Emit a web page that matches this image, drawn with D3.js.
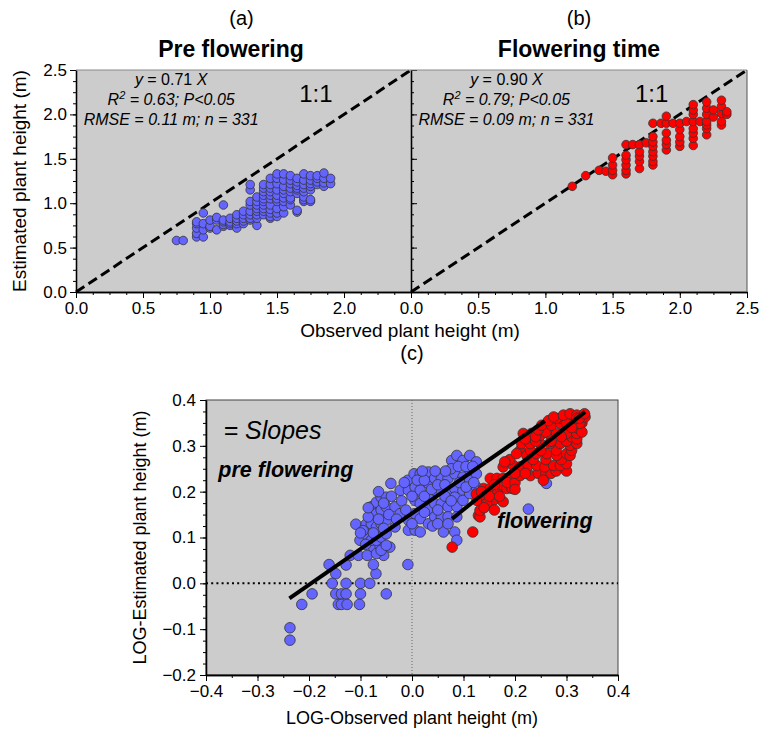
<!DOCTYPE html>
<html>
<head>
<meta charset="utf-8">
<script src="https://cdn.jsdelivr.net/npm/d3@7"></script>
<style>
  body { margin: 0; background: #fff; }
  svg { display: block; }
  text { font-family: 'Liberation Sans', Arial, sans-serif; fill: #000; }
</style>
</head>
<body>
<svg id="chart" width="759" height="731"></svg>
<script>
// ---- Panel (a): pre flowering, observed height columns and estimated heights (m)
const preObs = [0.75, 0.80, 0.90, 0.95, 1.00, 1.05, 1.10, 1.15, 1.20, 1.25, 1.30, 1.35,
                1.40, 1.45, 1.50, 1.55, 1.60, 1.65, 1.70, 1.75, 1.80, 1.85, 1.90];
const preEst = [
  [0.58],
  [0.58],
  [0.62, 0.66, 0.72, 0.77, 0.79],
  [0.62, 0.70, 0.77, 0.89],
  [0.72, 0.74, 0.81],
  [0.70, 0.81, 0.84],
  [0.74, 0.76, 0.79, 0.81, 0.98],
  [0.75, 0.77, 0.79, 0.83],
  [0.72, 0.77, 0.80, 0.83, 0.87],
  [0.77, 0.80, 0.83, 0.87, 0.91],
  [0.81, 0.83, 0.87, 0.91, 0.98, 1.02, 1.15, 1.21],
  [0.75, 0.83, 0.87, 0.91, 0.94, 0.98, 1.02, 1.07],
  [0.87, 0.91, 0.94, 0.98, 1.02, 1.05, 1.09, 1.13, 1.17, 1.21],
  [0.83, 0.85, 0.89, 0.93, 0.98, 1.05, 1.09, 1.13, 1.17, 1.21, 1.28],
  [0.85, 0.89, 0.94, 1.02, 1.05, 1.09, 1.15, 1.22, 1.28, 1.33],
  [0.89, 0.96, 1.02, 1.06, 1.11, 1.15, 1.19, 1.26, 1.33],
  [0.98, 1.04, 1.06, 1.13, 1.17, 1.22, 1.26, 1.31],
  [0.90, 0.92, 1.11, 1.15, 1.17, 1.20, 1.24, 1.28],
  [1.02, 1.04, 1.07, 1.13, 1.17, 1.21, 1.26, 1.33],
  [1.02, 1.04, 1.15, 1.19, 1.22, 1.26, 1.31],
  [1.21, 1.24, 1.28, 1.31],
  [1.19, 1.23, 1.28, 1.34],
  [1.22, 1.28]
];

// ---- Panel (b): flowering time
const flowObs = [1.20, 1.30, 1.40, 1.45, 1.50, 1.60, 1.65, 1.70, 1.75, 1.80, 1.86, 1.90,
                 1.95, 2.00, 2.05, 2.10, 2.15, 2.20, 2.25, 2.31, 2.35];
const flowEst = [
  [1.19],
  [1.31],
  [1.37],
  [1.36],
  [1.32, 1.37, 1.43, 1.51],
  [1.33, 1.37, 1.43, 1.49, 1.54, 1.66],
  [1.66],
  [1.39, 1.47, 1.53, 1.58, 1.66],
  [1.68],
  [1.43, 1.47, 1.53, 1.58, 1.64, 1.69, 1.75, 1.90],
  [1.90],
  [1.60, 1.66, 1.71, 1.79, 1.90, 1.98],
  [1.90],
  [1.64, 1.69, 1.75, 1.83, 1.90],
  [1.92],
  [1.65, 1.73, 1.79, 1.84, 1.92, 2.00, 2.05, 2.11],
  [1.92],
  [1.77, 1.84, 1.88, 1.92, 2.00, 2.07, 2.14],
  [1.97, 2.05],
  [1.88, 1.92, 2.01, 2.09, 2.16],
  [2.00, 2.03]
];

// Regression summaries printed in panels (a) and (b)
const panelTags   = ["(a)", "(b)"];
const panelTitles = ["Pre flowering", "Flowering time"];
const slopes      = ["0.71", "0.90"];
const r2Values    = ["0.63", "0.79"];
const rmseValues  = ["0.11", "0.09"];
const sampleSize  = 331;

const topTicksA = [0, 0.5, 1.0, 1.5, 2.0];
const topTicksB = [0, 0.5, 1.0, 1.5, 2.0, 2.5];
const topTicksY = [0, 0.5, 1.0, 1.5, 2.0, 2.5];

// ---- Panel (c): log10 observed vs log10 estimated heights
const logPre = [
  [-0.237, -0.097], [-0.237, -0.124], [-0.214, -0.046], [-0.194, -0.023],
  [-0.161, 0.041], [-0.148, 0.021], [-0.155, 0.000], [-0.128, 0.000], [-0.100, 0.000], [-0.082, 0.000],
  [-0.148, -0.023], [-0.137, -0.023], [-0.128, -0.023], [-0.100, -0.023],
  [-0.143, -0.046], [-0.137, -0.046], [-0.126, -0.046], [-0.102, -0.046],
  [-0.128, 0.040], [-0.120, 0.061], [-0.104, 0.061], [-0.070, 0.021], [-0.075, 0.041],
  [-0.050, -0.023], [-0.008, 0.041],
  [-0.087, 0.061], [-0.075, 0.079], [-0.062, 0.082], [-0.055, 0.061], [-0.043, 0.079],
  [-0.109, 0.129], [-0.101, 0.094], [-0.089, 0.129], [-0.089, 0.107],
  [-0.079, 0.167], [-0.079, 0.152], [-0.079, 0.130], [-0.079, 0.094],
  [-0.069, 0.177], [-0.069, 0.152], [-0.069, 0.123], [-0.069, 0.094], [-0.069, 0.065],
  [-0.060, 0.188], [-0.060, 0.160], [-0.060, 0.130], [-0.060, 0.101], [-0.060, 0.072],
  [-0.050, 0.188], [-0.050, 0.167], [-0.050, 0.138], [-0.050, 0.108], [-0.050, 0.083],
  [-0.041, 0.218], [-0.033, 0.167], [-0.033, 0.123], [-0.023, 0.203], [-0.023, 0.152],
  [-0.008, 0.225], [-0.007, 0.203], [-0.007, 0.138], [-0.007, 0.116],
  [0.004, 0.239], [0.006, 0.210], [0.006, 0.181], [0.006, 0.152], [0.006, 0.116],
  [0.016, 0.239], [0.016, 0.203], [0.016, 0.174], [0.016, 0.141], [0.016, 0.112],
  [0.032, 0.243], [0.032, 0.218], [0.032, 0.188], [0.032, 0.160], [0.032, 0.130],
  [0.044, 0.229], [0.044, 0.203], [0.044, 0.174], [0.044, 0.145],
  [0.057, 0.229], [0.057, 0.203], [0.057, 0.174], [0.057, 0.145],
  [0.070, 0.229], [0.070, 0.199], [0.070, 0.167], [0.070, 0.145],
  [0.083, 0.239], [0.083, 0.207], [0.083, 0.188], [0.087, 0.167], [0.087, 0.145],
  [0.077, 0.268], [0.087, 0.279], [0.099, 0.268], [0.112, 0.279], [0.125, 0.265],
  [0.099, 0.232], [0.099, 0.203], [0.099, 0.181],
  [0.112, 0.247], [0.112, 0.225], [0.112, 0.196],
  [0.125, 0.239], [0.125, 0.210],
  [0.061, 0.112], [0.083, 0.112], [0.087, 0.094],
  [-0.095, 0.115], [-0.085, 0.145], [-0.075, 0.110], [-0.065, 0.140], [-0.055, 0.120],
  [-0.045, 0.150], [-0.040, 0.190], [-0.030, 0.140], [-0.020, 0.180], [-0.015, 0.220],
  [-0.012, 0.160], [0.000, 0.190], [0.000, 0.130], [0.010, 0.225], [0.024, 0.225],
  [0.024, 0.155], [0.024, 0.190], [0.038, 0.205], [0.050, 0.215], [0.050, 0.160],
  [0.064, 0.190], [0.064, 0.215], [0.076, 0.180], [0.076, 0.250], [0.090, 0.255],
  [0.105, 0.255], [0.092, 0.220], [0.118, 0.255], [0.105, 0.210], [0.120, 0.220],
  [-0.090, 0.085], [-0.100, 0.110], [-0.085, 0.165], [-0.065, 0.200], [-0.055, 0.175],
  [0.040, 0.125], [0.050, 0.130], [0.070, 0.130], [0.065, 0.245], [0.045, 0.245], [0.020, 0.245],
  [0.261, 0.218], [0.226, 0.162]
];
const logFlow = [
  [0.078, 0.079], [0.118, 0.112], [0.129, 0.148],
  [0.132, 0.145], [0.132, 0.159], [0.126, 0.181], [0.145, 0.181], [0.158, 0.181], [0.177, 0.178],
  [0.139, 0.207], [0.152, 0.207], [0.168, 0.207], [0.184, 0.207], [0.194, 0.207],
  [0.145, 0.174], [0.165, 0.195], [0.150, 0.190],
  [0.140, 0.165], [0.160, 0.160], [0.170, 0.190], [0.125, 0.195], [0.135, 0.200],
  [0.152, 0.229], [0.165, 0.229], [0.177, 0.229], [0.190, 0.229],
  [0.185, 0.220], [0.200, 0.220], [0.160, 0.215], [0.200, 0.205],
  [0.210, 0.235], [0.230, 0.235], [0.245, 0.240], [0.260, 0.240], [0.270, 0.240],
  [0.280, 0.245], [0.255, 0.225], [0.300, 0.245],
  [0.177, 0.254], [0.197, 0.257], [0.210, 0.254], [0.226, 0.257], [0.242, 0.257],
  [0.258, 0.254], [0.275, 0.257], [0.288, 0.257], [0.300, 0.261],
  [0.200, 0.240], [0.220, 0.240], [0.235, 0.270], [0.260, 0.270], [0.290, 0.270],
  [0.190, 0.270], [0.180, 0.265], [0.210, 0.290],
  [0.203, 0.283], [0.223, 0.279], [0.242, 0.283], [0.262, 0.283], [0.281, 0.279], [0.300, 0.283], [0.307, 0.279],
  [0.230, 0.290], [0.250, 0.290], [0.280, 0.290], [0.310, 0.290],
  [0.213, 0.305], [0.229, 0.305], [0.249, 0.305], [0.268, 0.305], [0.288, 0.305], [0.307, 0.301], [0.320, 0.305],
  [0.240, 0.310], [0.270, 0.310], [0.300, 0.310], [0.310, 0.320], [0.320, 0.315],
  [0.216, 0.327], [0.232, 0.327], [0.249, 0.323], [0.265, 0.327], [0.281, 0.327], [0.300, 0.327], [0.320, 0.327],
  [0.260, 0.330], [0.290, 0.320], [0.320, 0.340], [0.330, 0.350], [0.330, 0.330],
  [0.240, 0.320], [0.220, 0.315], [0.245, 0.335],
  [0.252, 0.345], [0.271, 0.345], [0.288, 0.349], [0.307, 0.349], [0.326, 0.349],
  [0.290, 0.360], [0.300, 0.350], [0.310, 0.340], [0.280, 0.360], [0.265, 0.355],
  [0.275, 0.363], [0.294, 0.367], [0.307, 0.370], [0.320, 0.367], [0.336, 0.363], [0.320, 0.360],
  [0.325, 0.360], [0.335, 0.370]
];
// Fitted slope segments: [start, end] in log units
const fitPre    = [[-0.238, -0.033], [0.258, 0.354]];
const fitFlower = [[0.078, 0.141], [0.336, 0.374]];

const logTicksX = [-0.4, -0.3, -0.2, -0.1, 0.0, 0.1, 0.2, 0.3, 0.4];
const logTicksY = [-0.2, -0.1, 0.0, 0.1, 0.2, 0.3, 0.4];

// ---------------------------------------------------------------
const svg = d3.select("#chart");
const BG = "#cccccc";
const BLUE = "#6464ff";
const RED = "#ff0000";
const fmt1 = d3.format(".1f");
const fmtSigned = v => (v < 0 ? "\u2212" : "") + d3.format(".1f")(Math.abs(v));

// scales for the two upper panels
const yTop = d3.scaleLinear().domain([0, 2.5]).range([292, 70]);
const xA = d3.scaleLinear().domain([0, 2.5]).range([76, 411]);
const xB = d3.scaleLinear().domain([0, 2.5]).range([411, 747]);

// scales for the log panel
const xC = d3.scaleLinear().domain([-0.4, 0.4]).range([206, 618]);
const yC = d3.scaleLinear().domain([-0.2, 0.4]).range([675, 400]);

function minorValues(lo, hi, step) {
  const out = [];
  const n = Math.round((hi - lo) / step);
  for (let i = 0; i <= n; i++) out.push(+(lo + i * step).toFixed(4));
  return out;
}

function styleAxis(g, fontSize) {
  g.select(".domain").attr("stroke", "#000").attr("stroke-width", 1.3);
  g.selectAll(".tick line").attr("stroke", "#000").attr("stroke-width", 1);
  g.selectAll(".tick text")
    .attr("font-family", "'Liberation Sans', Arial, sans-serif")
    .attr("font-size", fontSize).attr("fill", "#000");
}

// ---------- upper panels
const topPanels = [
  { x: xA, obs: preObs, est: preEst, color: BLUE, ticks: topTicksA, titleX: 231 },
  { x: xB, obs: flowObs, est: flowEst, color: RED, ticks: topTicksB, titleX: 579 }
];

topPanels.forEach((p, i) => {
  const g = svg.append("g");
  const [x0, x1] = p.x.range();
  g.append("rect").attr("x", x0).attr("y", yTop(2.5))
    .attr("width", x1 - x0).attr("height", yTop(0) - yTop(2.5)).attr("fill", BG);

  // 1:1 reference line
  g.append("line")
    .attr("x1", p.x(0)).attr("y1", yTop(0)).attr("x2", p.x(2.5)).attr("y2", yTop(2.5))
    .attr("stroke", "#000").attr("stroke-width", 3).attr("stroke-dasharray", "10,5");

  // points
  const pts = [];
  p.obs.forEach((xv, k) => p.est[k].forEach(yv => pts.push([xv, yv])));
  g.selectAll("circle").data(pts).join("circle")
    .attr("cx", d => p.x(d[0])).attr("cy", d => yTop(d[1])).attr("r", 4.3)
    .attr("fill", p.color).attr("stroke", "#333").attr("stroke-width", 0.8);

  // regression text
  const cx = p.x(0.71);
  const t1 = g.append("text").attr("x", cx).attr("y", 85).attr("text-anchor", "middle").attr("font-size", 16);
  t1.append("tspan").attr("font-style", "italic").text("y");
  t1.append("tspan").text(" = " + slopes[i] + " ");
  t1.append("tspan").attr("font-style", "italic").text("X");
  const t2 = g.append("text").attr("x", cx).attr("y", 105).attr("text-anchor", "middle")
    .attr("font-size", 16).attr("font-style", "italic");
  t2.append("tspan").text("R");
  t2.append("tspan").attr("font-size", 11).attr("dy", -6).text("2");
  t2.append("tspan").attr("dy", 6).text(" = " + r2Values[i] + "; P<0.05");
  g.append("text").attr("x", cx).attr("y", 125).attr("text-anchor", "middle")
    .attr("font-size", 16).attr("font-style", "italic")
    .text("RMSE = " + rmseValues[i] + " m; n = " + sampleSize);

  g.append("text").attr("x", p.x(1.79)).attr("y", 102).attr("text-anchor", "middle")
    .attr("font-size", 24).text("1:1");

  // titles
  g.append("text").attr("x", (x0 + x1) / 2 - (i === 0 ? 2 : 0)).attr("y", 25).attr("text-anchor", "middle")
    .attr("font-size", 20).text(panelTags[i]);
  g.append("text").attr("x", p.titleX).attr("y", 57).attr("text-anchor", "middle")
    .attr("font-size", 23).attr("font-weight", "bold").text(panelTitles[i]);

  // x axis
  const ax = g.append("g").attr("transform", `translate(0,${yTop(0)})`);
  ax.call(d3.axisBottom(p.x).tickValues(minorValues(0, 2.5, 0.125)).tickSize(3).tickFormat("").tickSizeOuter(0));
  styleAxis(ax, 16);
  const axM = g.append("g").attr("transform", `translate(0,${yTop(0)})`);
  axM.call(d3.axisBottom(p.x).tickValues(p.ticks).tickSize(6).tickFormat(fmt1).tickSizeOuter(0).tickPadding(4));
  styleAxis(axM, 17);

  // y axis
  if (i === 0) {
    const ay = g.append("g").attr("transform", `translate(${x0},0)`);
    ay.call(d3.axisLeft(yTop).tickValues(minorValues(0, 2.5, 0.125)).tickSize(3).tickFormat("").tickSizeOuter(0));
    styleAxis(ay, 16);
    const ayM = g.append("g").attr("transform", `translate(${x0},0)`);
    ayM.call(d3.axisLeft(yTop).tickValues(topTicksY).tickSize(6).tickFormat(fmt1).tickSizeOuter(0).tickPadding(3));
    styleAxis(ayM, 17);
  } else {
    const ay = g.append("g").attr("transform", `translate(${x0},0)`);
    ay.call(d3.axisRight(yTop).tickValues(minorValues(0, 2.5, 0.125)).tickSize(3).tickFormat("").tickSizeOuter(0));
    styleAxis(ay, 16);
    const ayM = g.append("g").attr("transform", `translate(${x0},0)`);
    ayM.call(d3.axisRight(yTop).tickValues(topTicksY).tickSize(6).tickFormat("").tickSizeOuter(0));
    styleAxis(ayM, 16);
    // top and right frame
    g.append("line").attr("x1", 76).attr("x2", x1).attr("y1", yTop(2.5)).attr("y2", yTop(2.5))
      .attr("stroke", "#8a8a8a").attr("stroke-width", 1);
    g.append("line").attr("x1", x1).attr("x2", x1).attr("y1", yTop(2.5)).attr("y2", yTop(0))
      .attr("stroke", "#555").attr("stroke-width", 1);
  }
});

// axis titles of upper row
svg.append("text").attr("x", 410).attr("y", 337).attr("text-anchor", "middle")
  .attr("font-size", 19).text("Observed plant height (m)");
svg.append("text").attr("transform", `translate(26,181) rotate(-90)`).attr("text-anchor", "middle")
  .attr("font-size", 19).text("Estimated plant height (m)");

// ---------- log panel
const gc = svg.append("g");
gc.append("rect").attr("x", xC(-0.4)).attr("y", yC(0.4))
  .attr("width", xC(0.4) - xC(-0.4)).attr("height", yC(-0.2) - yC(0.4))
  .attr("fill", BG).attr("stroke", "#444").attr("stroke-width", 1);

// zero reference lines
gc.append("line").attr("x1", xC(0)).attr("x2", xC(0)).attr("y1", yC(0.4)).attr("y2", yC(-0.2))
  .attr("stroke", "#666").attr("stroke-width", 1).attr("stroke-dasharray", "1,2");
gc.append("line").attr("x1", xC(-0.4)).attr("x2", xC(0.4)).attr("y1", yC(0)).attr("y2", yC(0))
  .attr("stroke", "#000").attr("stroke-width", 2).attr("stroke-dasharray", "2,3.2");

gc.append("g").selectAll("circle").data(logPre).join("circle")
  .attr("cx", d => xC(d[0])).attr("cy", d => yC(d[1])).attr("r", 5.3)
  .attr("fill", BLUE).attr("stroke", "#333").attr("stroke-width", 0.8);
gc.append("g").selectAll("circle").data(logFlow).join("circle")
  .attr("cx", d => xC(d[0])).attr("cy", d => yC(d[1])).attr("r", 5.3)
  .attr("fill", RED).attr("stroke", "#333").attr("stroke-width", 0.8);

const lineGen = d3.line().x(d => xC(d[0])).y(d => yC(d[1]));
[fitPre, fitFlower].forEach(seg => {
  gc.append("path").attr("d", lineGen(seg)).attr("fill", "none")
    .attr("stroke", "#000").attr("stroke-width", 4);
});

gc.append("text").attr("x", xC(-0.366)).attr("y", yC(0.316)).attr("font-size", 25)
  .attr("font-style", "italic").text("= Slopes");
gc.append("text").attr("x", xC(-0.376)).attr("y", yC(0.232)).attr("font-size", 21.5)
  .attr("font-style", "italic").attr("font-weight", "bold").text("pre flowering");
gc.append("text").attr("x", xC(0.165)).attr("y", yC(0.12)).attr("font-size", 21.5)
  .attr("font-style", "italic").attr("font-weight", "bold").text("flowering");

gc.append("text").attr("x", xC(0)).attr("y", 360).attr("text-anchor", "middle")
  .attr("font-size", 20).text("(c)");

// log panel axes
const cxMinor = gc.append("g").attr("transform", `translate(0,${yC(-0.2)})`);
cxMinor.call(d3.axisBottom(xC).tickValues(minorValues(-0.4, 0.4, 0.05)).tickSize(3).tickFormat("").tickSizeOuter(0));
styleAxis(cxMinor, 17);
const cxMajor = gc.append("g").attr("transform", `translate(0,${yC(-0.2)})`);
cxMajor.call(d3.axisBottom(xC).tickValues(logTicksX).tickSize(6).tickFormat(fmtSigned).tickSizeOuter(0).tickPadding(4));
styleAxis(cxMajor, 17);

const cyMinor = gc.append("g").attr("transform", `translate(${xC(-0.4)},0)`);
cyMinor.call(d3.axisLeft(yC).tickValues(minorValues(-0.2, 0.4, 0.025)).tickSize(3).tickFormat("").tickSizeOuter(0));
styleAxis(cyMinor, 17);
const cyMajor = gc.append("g").attr("transform", `translate(${xC(-0.4)},0)`);
cyMajor.call(d3.axisLeft(yC).tickValues(logTicksY).tickSize(6).tickFormat(fmtSigned).tickSizeOuter(0).tickPadding(4));
styleAxis(cyMajor, 17);

svg.append("text").attr("x", xC(0)).attr("y", 724).attr("text-anchor", "middle")
  .attr("font-size", 18).text("LOG-Observed plant height (m)");
svg.append("text").attr("transform", `translate(146,${(yC(0.4) + yC(-0.2)) / 2}) rotate(-90)`)
  .attr("text-anchor", "middle").attr("font-size", 18).text("LOG-Estimated plant height (m)");
</script>
</body>
</html>
